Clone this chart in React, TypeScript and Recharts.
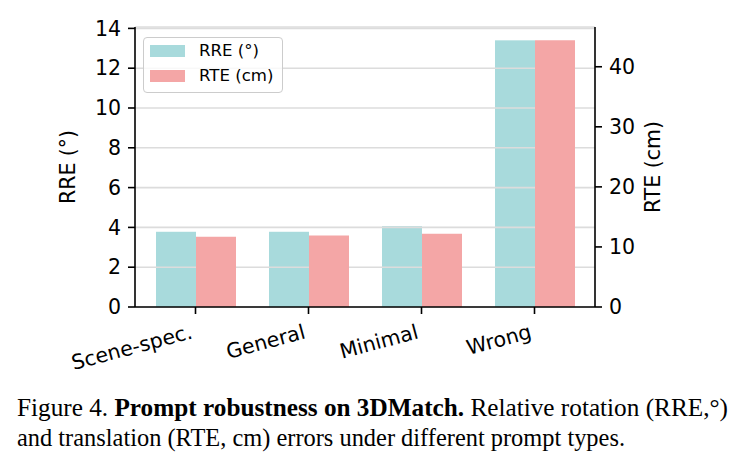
import React from 'react';
import { BarChart, Bar, XAxis, YAxis, CartesianGrid, Legend } from 'recharts';

const categories = ['Scene-spec.', 'General', 'Minimal', 'Wrong'];
const rreDeg = [3.78, 3.78, 4.06, 13.4];
const rteCm = [11.7, 11.9, 12.2, 44.4];
const rreTicks = [0, 2, 4, 6, 8, 10, 12, 14];
const rteTicks = [0, 10, 20, 30, 40];

const TEAL = '#A8DADC';
const PINK = '#F4A6A6';
const GRID = '#dcdcdc';
const FONT = '"DejaVu Sans", sans-serif';

const data = categories.map((name, i) => ({ name, rre: rreDeg[i], rte: rteCm[i] }));

// matplotlib-style autoscale: 5% headroom over the tallest bar
const rreMax = Math.max(...rreDeg) * 1.05;
const rteMax = Math.max(...rteCm) * 1.05;

// teal bars sit under the grid, so redraw the grid lines across them
const TealBar = (props: any) => {
  const { x, y, width, height, payload } = props;
  const v = payload.rre;
  const base = y + height;
  const ppu = v > 0 ? height / v : 0;
  return (
    <g>
      <rect x={x} y={y} width={width} height={height} fill={TEAL} />
      {rreTicks
        .filter((t) => t > 0 && t < v)
        .map((t) => (
          <line key={t} x1={x} x2={x + width} y1={base - t * ppu} y2={base - t * ppu} stroke={GRID} strokeWidth={1.6} />
        ))}
    </g>
  );
};

const SlantTick = (props: any) => {
  const { x, y, payload } = props;
  return (
    <text
      x={x - 2}
      y={y + 22}
      textAnchor="end"
      transform={`rotate(-15, ${x - 2}, ${y + 22})`}
      fontFamily={FONT}
      fontSize={20.5}
      fill="#000"
    >
      {payload.value}
    </text>
  );
};

const LegendBox = () => (
  <div
    style={{
      position: 'absolute',
      left: 143,
      top: 37,
      width: 140,
      height: 56,
      border: '1.5px solid #cccccc',
      borderRadius: 4,
      background: 'rgba(255,255,255,0.8)',
      fontFamily: FONT,
      fontSize: 16.6,
      color: '#000',
      boxSizing: 'border-box',
    }}
  >
    {[
      { label: 'RRE (°)', color: TEAL, top: 7 },
      { label: 'RTE (cm)', color: PINK, top: 32 },
    ].map((it) => (
      <div key={it.label} style={{ position: 'absolute', left: 6, top: it.top, display: 'flex', alignItems: 'center' }}>
        <span style={{ display: 'inline-block', width: 35, height: 12, background: it.color }} />
        <span style={{ marginLeft: 14, lineHeight: '12px' }}>{it.label}</span>
      </div>
    ))}
  </div>
);

const axisTitle = (text: string, dx: number) => (props: any) => {
  const vb = props.viewBox;
  const cx = vb.x + dx;
  const cy = vb.y + vb.height / 2;
  return (
    <text
      x={cx}
      y={cy}
      textAnchor="middle"
      dominantBaseline="central"
      transform={`rotate(-90, ${cx}, ${cy})`}
      fontFamily={FONT}
      fontSize={20.5}
      fill="#000"
    >
      {text}
    </text>
  );
};

const tickStyle = { fill: '#000', fontSize: 20.5, fontFamily: FONT };
const axisLine = { stroke: '#000', strokeWidth: 1.6 };

export default function App() {
  return (
    <div style={{ position: 'absolute', left: 0, top: 0, width: 742, height: 470, background: '#fff' }}>
      <BarChart
        width={742}
        height={470}
        data={data}
        margin={{ top: 27, right: 77, bottom: 103, left: 65 }}
        barGap={0}
        barSize={40}
      >
        <CartesianGrid yAxisId="left" vertical={false} stroke={GRID} strokeWidth={1.6} />
        <XAxis
          dataKey="name"
          padding={{ left: 4, right: 4 }}
          height={60}
          axisLine={axisLine}
          tickLine={axisLine}
          tickSize={7}
          tick={<SlantTick />}
          interval={0}
        />
        <YAxis
          yAxisId="left"
          width={70}
          domain={[0, rreMax]}
          ticks={rreTicks}
          axisLine={axisLine}
          tickLine={axisLine}
          tickSize={7}
          tickMargin={7}
          tick={tickStyle}
          label={{ content: axisTitle('RRE (°)', 3) }}
        />
        <YAxis
          yAxisId="right"
          orientation="right"
          width={70}
          domain={[0, rteMax]}
          ticks={rteTicks}
          axisLine={axisLine}
          tickLine={axisLine}
          tickSize={7}
          tickMargin={7}
          tick={tickStyle}
          label={{ content: axisTitle('RTE (cm)', 58) }}
        />
        <Legend content={() => null} />
        <Bar yAxisId="left" dataKey="rre" name="RRE (°)" fill={TEAL} shape={<TealBar />} isAnimationActive={false} />
        <Bar yAxisId="right" dataKey="rte" name="RTE (cm)" fill={PINK} isAnimationActive={false} />
      </BarChart>
      <LegendBox />
      <svg
        width={742}
        height={90}
        style={{ position: 'absolute', left: 0, top: 380 }}
        fontFamily='"Liberation Serif", "Times New Roman", serif'
        fontSize={26}
        fill="#000"
      >
        <text x={17} y={36} textLength={711} lengthAdjust="spacingAndGlyphs">
          Figure 4. <tspan fontWeight="bold">Prompt robustness on 3DMatch.</tspan> Relative rotation (RRE,°)
        </text>
        <text x={17} y={66} textLength={608} lengthAdjust="spacingAndGlyphs">
          and translation (RTE, cm) errors under different prompt types.
        </text>
      </svg>
    </div>
  );
}
